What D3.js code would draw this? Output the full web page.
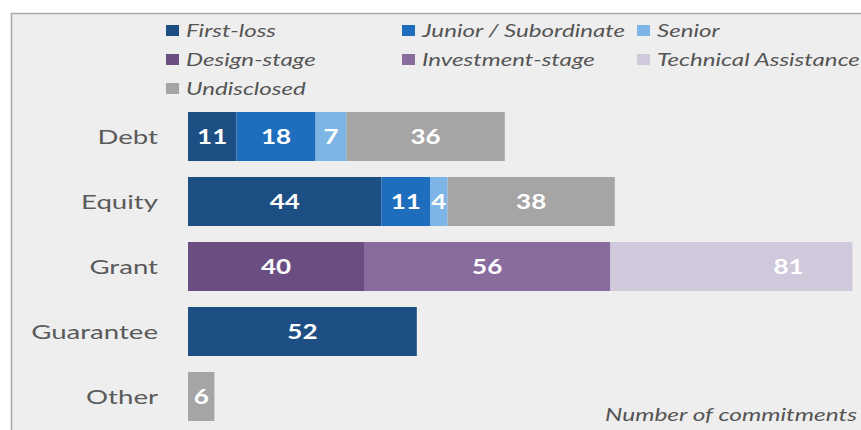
<!DOCTYPE html>
<html>
<head>
<meta charset="utf-8">
<script src="https://cdn.jsdelivr.net/npm/d3@7"></script>
<style>
  html, body { margin: 0; padding: 0; background: #ffffff; }
  svg { display: block; }
</style>
</head>
<body>
<svg id="chart" width="861" height="430"></svg>
<script>
// Instrument types (rows) and their breakdown segments
const categories = ["Debt", "Equity", "Grant", "Guarantee", "Other"];

const seriesNames = [
  "First-loss", "Junior / Subordinate", "Senior",
  "Design-stage", "Investment-stage", "Technical Assistance",
  "Undisclosed"
];

const seriesColors = [
  "#1d4e84", "#1f6ebd", "#7db6e6",
  "#6a4e82", "#876c9d", "#d0c9db",
  "#a5a5a5"
];

// Number of commitments per category, one array per series (0 = not present)
const firstLoss      = [11, 44, 0, 52, 0];
const juniorSub      = [18, 11, 0, 0, 0];
const senior         = [7, 4, 0, 0, 0];
const designStage    = [0, 0, 40, 0, 0];
const investStage    = [0, 0, 56, 0, 0];
const techAssistance = [0, 0, 81, 0, 0];
const undisclosed    = [36, 38, 0, 0, 6];

const seriesValues = [firstLoss, juniorSub, senior, designStage, investStage, techAssistance, undisclosed];

const axisTitle = "Number of commitments";

// ---- layout ----
const W = 861, H = 430;
const svg = d3.select("#chart");
const font = "Lato, 'Open Sans', sans-serif";
// the typeface is drawn horizontally widened
const wide = 1.36;

// panel background and frame
svg.append("rect").attr("x", 0).attr("y", 0).attr("width", W).attr("height", H).attr("fill", "#ffffff");
svg.append("rect").attr("x", 11).attr("y", 13).attr("width", W - 11).attr("height", H - 13).attr("fill", "#eeeeee");
svg.append("line").attr("x1", 11).attr("x2", W).attr("y1", 13.5).attr("y2", 13.5)
  .attr("stroke", "#a9a9a9").attr("stroke-width", 1.5);
svg.append("line").attr("x1", 11.5).attr("x2", 11.5).attr("y1", 13).attr("y2", H)
  .attr("stroke", "#a9a9a9").attr("stroke-width", 1.5);

// scales
const x = d3.scaleLinear().domain([0, 151]).range([188, 852.4]);
const y = d3.scaleBand().domain(categories).range([104, 429])
  .paddingInner(0.246).paddingOuter(0.123);

// stack the series
const rows = categories.map((c, i) => {
  const r = { category: c };
  seriesNames.forEach((s, k) => { r[s] = seriesValues[k][i]; });
  return r;
});
const stacked = d3.stack().keys(seriesNames)(rows);

// clip region: bars are cut at the panel's right edge
svg.append("defs").append("clipPath").attr("id", "plotClip")
  .append("rect").attr("x", x(0)).attr("y", 13).attr("width", x.range()[1] - x(0)).attr("height", H);

const barsG = svg.append("g").attr("clip-path", "url(#plotClip)");

stacked.forEach((layer, k) => {
  const g = barsG.append("g").attr("fill", seriesColors[k]);
  g.selectAll("rect")
    .data(layer.filter(d => d[1] > d[0]))
    .join("rect")
    .attr("x", d => x(d[0]))
    .attr("y", d => y(d.data.category))
    .attr("width", d => x(d[1]) - x(d[0]))
    .attr("height", y.bandwidth());
});

// value labels
const labelsG = svg.append("g");
stacked.forEach((layer, k) => {
  labelsG.selectAll(null)
    .data(layer.filter(d => d[1] > d[0]))
    .join("text")
    .attr("transform", d =>
      `translate(${(x(d[0]) + x(d[1])) / 2},${y(d.data.category) + y.bandwidth() / 2}) scale(1.3,1)`)
    .attr("dy", "0.36em")
    .attr("text-anchor", "middle")
    .attr("fill", "#ffffff")
    .attr("font-family", font)
    .attr("font-size", 20)
    .attr("font-weight", 700)
    .text(d => d[1] - d[0]);
});

// category axis
const yAxis = svg.append("g").attr("transform", `translate(${x(0) - 30},0)`)
  .call(d3.axisLeft(y).tickSize(0).tickPadding(0));
yAxis.select(".domain").remove();
yAxis.selectAll("text")
  .attr("transform", `scale(${wide + 0.02},1)`)
  .attr("font-family", font)
  .attr("font-size", 20)
  .attr("fill", "#5a5a5a")
  .attr("dy", "0.36em");

// legend: three columns
const legendCols = [166, 402, 637];
const legendRows = [31, 60, 89];
const legendG = svg.append("g");
seriesNames.forEach((s, k) => {
  const cx = legendCols[k % 3], cy = legendRows[Math.floor(k / 3)];
  const item = legendG.append("g").attr("transform", `translate(${cx},${cy})`);
  item.append("rect").attr("x", 0).attr("y", -6).attr("width", 13).attr("height", 11)
    .attr("fill", seriesColors[k]);
  item.append("text").attr("transform", `translate(20,0) scale(${wide - 0.02},1)`)
    .attr("dy", "0.36em")
    .attr("font-family", font).attr("font-size", 18).attr("font-style", "italic")
    .attr("fill", "#555555").text(s);
});

// axis title
svg.append("text").attr("transform", `translate(857,415) scale(${wide},1)`)
  .attr("dy", "0.36em")
  .attr("text-anchor", "end")
  .attr("font-family", font).attr("font-size", 18).attr("font-style", "italic")
  .attr("fill", "#555555").text(axisTitle);
</script>
</body>
</html>
